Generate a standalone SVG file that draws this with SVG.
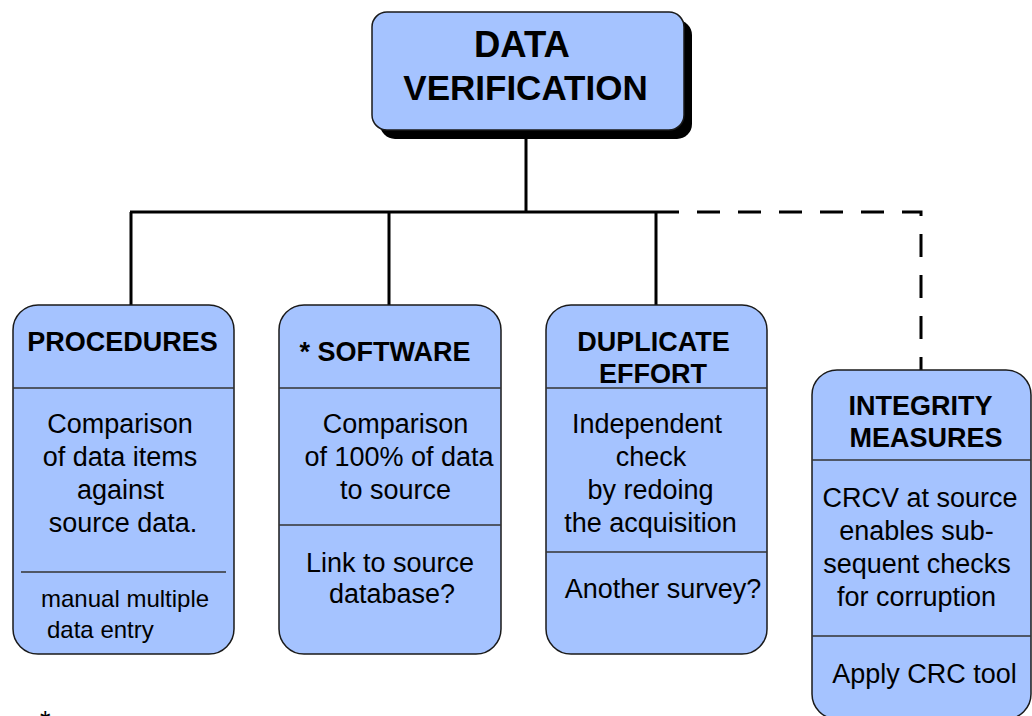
<svg xmlns="http://www.w3.org/2000/svg" width="1032" height="716" viewBox="0 0 1032 716">
<style>
.box{fill:#a5c3ff;stroke:#1a1a1a;stroke-width:1.5}
.sep{stroke:#333;stroke-width:1.5}
.t{font-family:"Liberation Sans",Arial,sans-serif;font-weight:bold;font-size:27px;fill:#000;text-anchor:middle}
.b{font-family:"Liberation Sans",Arial,sans-serif;font-size:27px;fill:#000;text-anchor:middle}
.s{font-family:"Liberation Sans",Arial,sans-serif;font-size:24px;fill:#000}
.ln{fill:none;stroke:#000;stroke-width:3}
</style>
<rect width="1032" height="716" fill="#fff"/>
<g id="connectors">
<path class="ln" d="M526 130 V212 M130 212 H656 M131 212 V305 M389 212 V305 M656 212 V305"/>
<path class="ln" d="M656 212 H921 V370" stroke-dasharray="23 18"/>
</g>
<g id="data-verification">
<rect x="380" y="20" width="312" height="119" rx="15" fill="#000"/>
<rect class="box" x="372" y="12" width="312" height="118" rx="15"/>
<text x="522" y="57" style="font-family:'Liberation Sans',Arial,sans-serif;font-weight:bold;font-size:36.5px;text-anchor:middle">DATA</text>
<text x="525.5" y="100" style="font-family:'Liberation Sans',Arial,sans-serif;font-weight:bold;font-size:35px;text-anchor:middle">VERIFICATION</text>
</g>
<g id="procedures">
<rect class="box" x="13" y="305" width="221" height="349" rx="25"/>
<line class="sep" x1="13" y1="388" x2="234" y2="388"/>
<line class="sep" x1="21" y1="572" x2="226" y2="572"/>
<text class="t" x="122.5" y="351">PROCEDURES</text>
<text class="b" x="120" y="433">Comparison</text>
<text class="b" x="120" y="466">of data items</text>
<text class="b" x="120.5" y="499">against</text>
<text class="b" x="123" y="532">source data.</text>
<text class="s" x="41" y="607">manual multiple</text>
<text class="s" x="47" y="638">data entry</text>
</g>
<g id="software">
<rect class="box" x="279" y="305" width="222" height="349" rx="25"/>
<line class="sep" x1="279" y1="388" x2="501" y2="388"/>
<line class="sep" x1="279" y1="525" x2="501" y2="525"/>
<text class="t" x="385" y="361">* SOFTWARE</text>
<text class="b" x="395.5" y="433">Comparison</text>
<text class="b" x="399" y="466">of 100% of data</text>
<text class="b" x="395.5" y="499">to source</text>
<text class="b" x="390" y="572">Link to source</text>
<text class="b" x="392" y="603">database?</text>
</g>
<g id="duplicate-effort">
<rect class="box" x="546" y="305" width="221" height="349" rx="25"/>
<line class="sep" x1="546" y1="388" x2="767" y2="388"/>
<line class="sep" x1="546" y1="552" x2="767" y2="552"/>
<text class="t" x="653.5" y="351">DUPLICATE</text>
<text class="t" x="653" y="383">EFFORT</text>
<text class="b" x="647" y="433">Independent</text>
<text class="b" x="651" y="466">check</text>
<text class="b" x="650.5" y="499">by redoing</text>
<text class="b" x="650.5" y="532">the acquisition</text>
<text class="b" x="663" y="598">Another survey?</text>
</g>
<g id="integrity-measures">
<rect class="box" x="812" y="370" width="219" height="349" rx="25"/>
<line class="sep" x1="812" y1="460" x2="1031" y2="460"/>
<line class="sep" x1="812" y1="636" x2="1031" y2="636"/>
<text class="t" x="920.5" y="415">INTEGRITY</text>
<text class="t" x="926" y="447">MEASURES</text>
<text class="b" x="920" y="507">CRCV at source</text>
<text class="b" x="916.5" y="540">enables sub-</text>
<text class="b" x="917" y="573">sequent checks</text>
<text class="b" x="916.5" y="606">for corruption</text>
<text class="b" x="924.5" y="683">Apply CRC tool</text>
</g>
<text x="40" y="730" style="font-family:'Liberation Sans',Arial,sans-serif;font-size:27px">*</text>
</svg>
